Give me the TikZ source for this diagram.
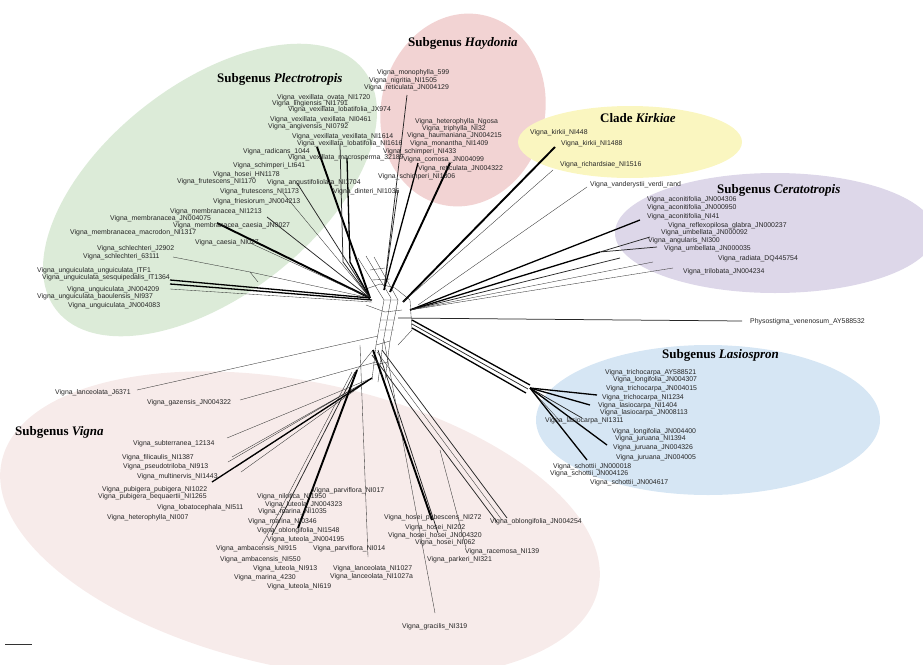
\documentclass[tikz,border=0pt]{standalone}
\usepackage{fontspec}
\newfontfamily\labfam{Liberation Sans}
\newfontfamily\ttlfam{Liberation Serif}
\definecolor{cPlec}{HTML}{DCEBD8}
\definecolor{cHay}{HTML}{F2D3D3}
\definecolor{cKir}{HTML}{FAF6C0}
\definecolor{cCer}{HTML}{DDD7E9}
\definecolor{cLas}{HTML}{D6E6F4}
\definecolor{cVig}{HTML}{F7EBEA}
\tikzset{
  lab/.style={font=\labfam\fontsize{6.9}{7}\selectfont, inner sep=0pt, anchor=west, text=black!85},
  ttl/.style={font=\ttlfam\bfseries\fontsize{13}{14}\selectfont, inner sep=0pt, anchor=west},
  b1/.style={draw=black!80, line width=0.35pt},
  b2/.style={draw=black!85, line width=0.75pt},
  b3/.style={draw=black, line width=1.3pt},
  b4/.style={draw=black, line width=1.9pt},
}
\begin{document}
\begin{tikzpicture}[x=1pt,y=-1pt]
\useasboundingbox (0,0) rectangle (923,664);
% ---------- coloured groups ----------
\fill[cVig, rotate around={-12:(300,525)}] (300,525) ellipse [x radius=305pt, y radius=143pt];
\fill[cPlec, rotate around={38:(210,190)}] (210,190) ellipse [x radius=195pt, y radius=106pt];
\fill[cHay, rotate around={-12:(463,110)}] (463,110) ellipse [x radius=82pt, y radius=97pt];
\fill[cKir] (630,142) ellipse [x radius=112pt, y radius=36pt];
\fill[cCer] (775,233) ellipse [x radius=160pt, y radius=60pt];
\fill[cLas] (708,420) ellipse [x radius=172pt, y radius=75pt];
% ---------- hubs ----------
\coordinate (Hp) at (370,298);
\coordinate (Hh) at (384,290);
\coordinate (Hk) at (403,302);
\coordinate (Hc) at (410,310);
\coordinate (Ho) at (398,318);
\coordinate (Hl) at (412,324);
\coordinate (Ls) at (530,388);
\coordinate (Va) at (378,336);
\coordinate (Vb) at (376,362);
\coordinate (Vc) at (372,378);
\coordinate (Vd) at (357,370);
\coordinate (Ve) at (373,350);
% ---------- reticulate core ----------
\draw[b1] (358,258) -- (384,300) -- (376,345) -- (372,380);
\draw[b1] (366,256) -- (391,298) -- (383,343) -- (378,382);
\draw[b1] (374,257) -- (398,300) -- (390,341) -- (385,380);
\draw[b1] (384,300) -- (398,300) (376,345) -- (390,341) (380,320) -- (395,320) (374,365) -- (388,362);
\draw[b1] (363,290) -- (380,284) -- (395,288) -- (410,300) -- (412,330) -- (398,345);
\draw[b1] (366,305) -- (385,312) -- (402,310);
\draw[b1] (370,270) -- (385,268) (372,280) -- (390,279) (380,330) -- (394,330);
% ---------- Plectrotropis ----------
\draw[b4] (317,147) -- (Hp);
\draw[b3] (347,158) -- (350,262) -- (Hp);
\draw[b2] (340,145) -- (343,262) -- (Hp);
\draw[b2] (297,183) -- (Hp);
\draw[b1] (283,193) -- (Hp);
\draw[b4] (217,223) -- (Hp);
\draw[b2] (267,217) -- (Hp);
\draw[b1] (250,243) -- (Hp);
\draw[b1] (173,257) -- (250,272) -- (Hp);
\draw[b1] (250,272) -- (258,282);
\draw[b3] (170,280) -- (Hp);
\draw[b3] (170,284) -- (372,300);
\draw[b1] (170,289) -- (372,302);
% ---------- Haydonia ----------
\draw[b2] (407,95) -- (Hh);
\draw[b2] (398,190) -- (Hh);
\draw[b3] (418,163) -- (Hh);
\draw[b4] (450,163) -- (390,292);
% ---------- Kirkiae ----------
\draw[b4] (555,147) -- (Hk);
\draw[b1] (553,170) -- (Hk);
\draw[b1] (587,187) -- (418,305);
% ---------- Ceratotropis ----------
\draw[b3] (640,220) -- (Hc);
\draw[b3] (Hc) -- (600,252);
\draw[b2] (600,252) -- (650,237) (600,252) -- (657,247);
\draw[b1] (Hc) -- (653,262);
\draw[b1] (Hc) -- (673,268);
\draw[b2] (Hc) -- (620,258);
% ---------- outgroup ----------
\draw[b2] (Ho) -- (742,321);
% ---------- Lasiospron ----------
\draw[b3] (412,320) -- (530,385);
\draw[b2] (412,324) -- (528,389);
\draw[b3] (412,328) -- (526,393);
\draw[b3] (Ls) -- (597,395);
\draw[b3] (Ls) -- (590,405);
\draw[b2] (Ls) -- (582,418);
\draw[b1] (Ls) -- (560,421);
\draw[b3] (Ls) -- (607,445);
\draw[b3] (Ls) -- (587,460);
% ---------- Vigna ----------
\draw[b1] (137,390) -- (Va);
\draw[b1] (240,400) -- (Vb);
\draw[b1] (227,438) -- (Vc);
\draw[b1] (232,457) -- (Vc) (228,462) -- (Vc) (236,467) -- (Vc) (241,472) -- (Vc);
\draw[b3] (212,482) -- (Vc);
\draw[b1] (Ve) -- (Vd);
\draw[b4] (Vd) -- (298,528);
\draw[b2] (355,372) -- (272,535);
\draw[b1] (352,372) -- (262,545);
\draw[b1] (360,345) -- (368,557);
\draw[b4] (Ve) -- (432,520);
\draw[b2] (378,350) -- (438,533);
\draw[b2] (372,355) -- (497,522);
\draw[b1] (377,352) -- (502,520);
\draw[b2] (382,350) -- (507,518);
\draw[b1] (440,450) -- (466,548);
\draw[b1] (384,340) -- (435,613);
% ---------- scale bar ----------
\coordinate (sb1) at (5,644); \coordinate (sb2) at (32,644);
\draw[b1] (sb1) -- (sb2);
% ---------- titles ----------
\node[ttl] (tPlec) at (217,79) {Subgenus \textit{Plectrotropis}};
\node[ttl] (tHay) at (408,43) {Subgenus \textit{Haydonia}};
\node[ttl] (tKir) at (600,118) {Clade \textit{Kirkiae}};
\node[ttl] (tCer) at (717,190) {Subgenus \textit{Ceratotropis}};
\node[ttl] (tLas) at (662,355) {Subgenus \textit{Lasiospron}};
\node[ttl] (tVig) at (15,432) {Subgenus \textit{Vigna}};
% ---------- labels ----------
\foreach \x/\y/\t [count=\i] in {
277/98/Vigna\_vexillata\_ovata\_NI1720,
272/104/Vigna\_lingiensis\_NI1791,
288/110/Vigna\_vexillata\_lobatifolia\_JX974,
270/120/Vigna\_vexillata\_vexillata\_NI0461,
268/127/Vigna\_angivensis\_NI0792,
292/137/Vigna\_vexillata\_vexillata\_NI1614,
297/144/Vigna\_vexillata\_lobatifolia\_NI1616,
243/152/Vigna\_radicans\_1044,
288/158/Vigna\_vexillata\_macrosperma\_32189,
233/166/Vigna\_schimperi\_Lt641,
213/175/Vigna\_hosei\_HN1178,
177/182/Vigna\_frutescens\_NI1170,
267/183/Vigna\_angustifoliolata\_NI1704,
220/192/Vigna\_frutescens\_NI1173,
333/192/Vigna\_dinteri\_NI1036,
213/202/Vigna\_friesiorum\_JN004213,
170/212/Vigna\_membranacea\_NI1213,
110/219/Vigna\_membranacea\_JN004075,
173/226/Vigna\_membranacea\_caesia\_JN0027,
70/233/Vigna\_membranacea\_macrodon\_NI1317,
195/243/Vigna\_caesia\_NI027,
97/249/Vigna\_schlechteri\_J2902,
83/257/Vigna\_schlechteri\_63111,
37/271/Vigna\_unguiculata\_unguiculata\_ITF1,
42/278/Vigna\_unguiculata\_sesquipedalis\_IT1364,
67/290/Vigna\_unguiculata\_JN004209,
37/297/Vigna\_unguiculata\_baoulensis\_NI937,
68/306/Vigna\_unguiculata\_JN004083}
  \node[lab] (pl\i) at (\x,\y) {\t};
\foreach \x/\y/\t [count=\i] in {
377/73/Vigna\_monophylla\_599,
369/81/Vigna\_nigritia\_NI1505,
364/88/Vigna\_reticulata\_JN004129,
415/122/Vigna\_heterophylla\_Ngosa,
422/129/Vigna\_triphylla\_NI32,
407/136/Vigna\_haumaniana\_JN004215,
410/144/Vigna\_monantha\_NI1409,
383/152/Vigna\_schimperi\_NI433,
403/160/Vigna\_comosa\_JN004099,
418/169/Vigna\_reticulata\_JN004322,
378/177/Vigna\_schimperi\_NI1306}
  \node[lab] (ha\i) at (\x,\y) {\t};
\foreach \x/\y/\t [count=\i] in {
530/133/Vigna\_kirkii\_NI448,
561/144/Vigna\_kirkii\_NI1488,
560/165/Vigna\_richardsiae\_NI1516,
590/185/Vigna\_vanderystii\_verdi\_rand}
  \node[lab] (ki\i) at (\x,\y) {\t};
\foreach \x/\y/\t [count=\i] in {
647/200/Vigna\_aconitifolia\_JN004306,
647/208/Vigna\_aconitifolia\_JN000950,
647/217/Vigna\_aconitifolia\_NI41,
668/226/Vigna\_reflexopilosa\_glabra\_JN000237,
661/233/Vigna\_umbellata\_JN000092,
648/241/Vigna\_angularis\_NI300,
664/249/Vigna\_umbellata\_JN000035,
718/259/Vigna\_radiata\_DQ445754,
683/272/Vigna\_trilobata\_JN004234}
  \node[lab] (ce\i) at (\x,\y) {\t};
\node[lab] (og) at (750,322) {Physostigma\_venenosum\_AY588532};
\foreach \x/\y/\t [count=\i] in {
605/373/Vigna\_trichocarpa\_AY588521,
613/380/Vigna\_longifolia\_JN004307,
606/389/Vigna\_trichocarpa\_JN004015,
602/398/Vigna\_trichocarpa\_NI1234,
598/406/Vigna\_lasiocarpa\_NI1404,
600/413/Vigna\_lasiocarpa\_JN008113,
545/421/Vigna\_lasiocarpa\_NI1311,
612/432/Vigna\_longifolia\_JN004400,
615/439/Vigna\_juruana\_NI1394,
613/448/Vigna\_juruana\_JN004326,
616/458/Vigna\_juruana\_JN004005,
553/467/Vigna\_schottii\_JN000018,
550/474/Vigna\_schottii\_JN004126,
590/483/Vigna\_schottii\_JN004617}
  \node[lab] (la\i) at (\x,\y) {\t};
\foreach \x/\y/\t [count=\i] in {
55/393/Vigna\_lanceolata\_J6371,
147/403/Vigna\_gazensis\_JN004322,
133/444/Vigna\_subterranea\_12134,
122/458/Vigna\_filicaulis\_NI1387,
123/467/Vigna\_pseudotriloba\_NI913,
137/477/Vigna\_multinervis\_NI1443,
102/490/Vigna\_pubigera\_pubigera\_NI1022,
98/497/Vigna\_pubigera\_bequaertii\_NI1265,
157/508/Vigna\_lobatocephala\_NI511,
107/518/Vigna\_heterophylla\_NI007,
312/491/Vigna\_parviflora\_NI017,
257/497/Vigna\_nilotica\_NI1950,
265/505/Vigna\_luteola\_JN004323,
258/512/Vigna\_marina\_NI1035,
248/522/Vigna\_marina\_NI0346,
257/531/Vigna\_oblongifolia\_NI1548,
267/540/Vigna\_luteola\_JN004195,
216/549/Vigna\_ambacensis\_NI915,
313/549/Vigna\_parviflora\_NI014,
220/560/Vigna\_ambacensis\_NI550,
253/569/Vigna\_luteola\_NI913,
234/578/Vigna\_marina\_4230,
267/587/Vigna\_luteola\_NI619,
333/569/Vigna\_lanceolata\_NI1027,
330/577/Vigna\_lanceolata\_NI1027a,
384/518/Vigna\_hosei\_pubescens\_NI272,
490/522/Vigna\_oblongifolia\_JN004254,
405/528/Vigna\_hosei\_NI202,
388/536/Vigna\_hosei\_hosei\_JN004320,
415/543/Vigna\_hosei\_NI062,
465/552/Vigna\_racemosa\_NI139,
427/560/Vigna\_parkeri\_NI321,
402/627/Vigna\_gracilis\_NI319}
  \node[lab] (vi\i) at (\x,\y) {\t};
\end{tikzpicture}
\end{document}
